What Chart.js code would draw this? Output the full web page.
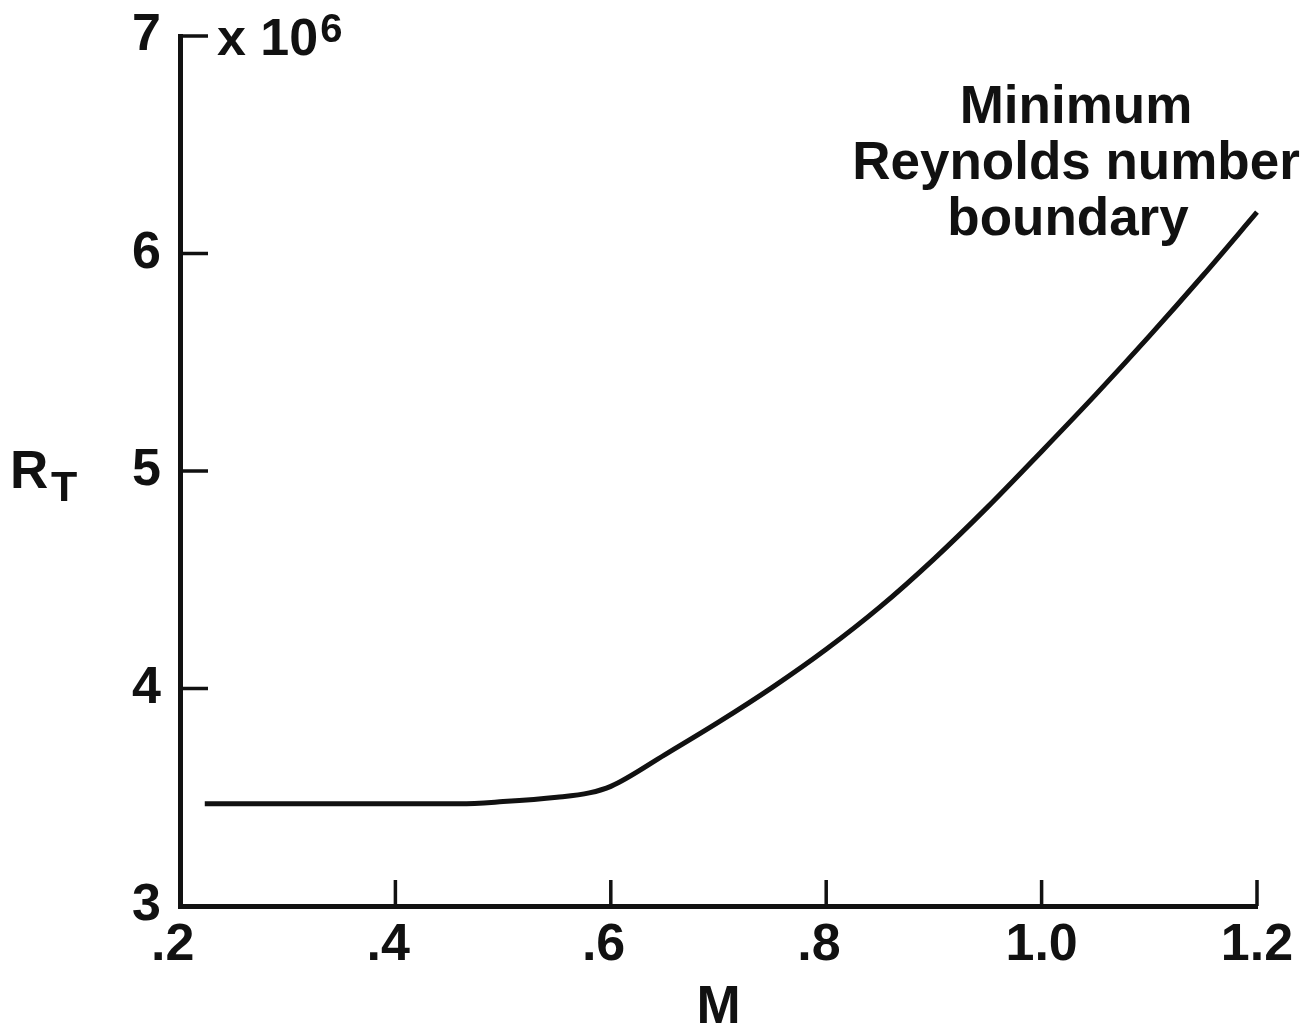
<!DOCTYPE html>
<html>
<head>
<meta charset="utf-8">
<title>Minimum Reynolds number boundary</title>
<script src="https://cdn.jsdelivr.net/npm/chart.js@4.4.1/dist/chart.umd.min.js"></script>
<style>
  html, body { margin: 0; padding: 0; background: #ffffff; }
  #wrap { width: 1316px; height: 1030px; position: relative; }
  canvas { display: block; }
</style>
</head>
<body>
<div id="wrap"><canvas id="chart" width="1316" height="1030"></canvas></div>
<script>
// Mach number along the boundary
const machNumbers = [0.223, 0.30, 0.40, 0.46, 0.50, 0.55, 0.58, 0.60, 0.65, 0.70,
                     0.75, 0.80, 0.85, 0.90, 0.95, 1.00, 1.05, 1.10, 1.15, 1.20];
// Minimum test Reynolds number, in millions
const reynoldsMillions = [3.47, 3.47, 3.47, 3.47, 3.48, 3.50, 3.52, 3.55, 3.695, 3.845,
                          4.005, 4.18, 4.375, 4.595, 4.835, 5.09, 5.35, 5.62, 5.90, 6.19];
// Axis tick values
const machTicks = [0.2, 0.4, 0.6, 0.8, 1.0, 1.2];
const reynoldsTicks = [3, 4, 5, 6, 7];
// Curve annotation lines
const curveNote = ['Minimum', 'Reynolds number', 'boundary'];

const INK = '#111111';
const FAMILY = '"Liberation Sans", Arial, Helvetica, sans-serif';

// Inward tick marks, axis multiplier, y-axis symbol and curve note
const decorations = {
  id: 'decorations',
  afterDraw(chart) {
    const ctx = chart.ctx;
    const xs = chart.scales.x;
    const ys = chart.scales.y;
    const area = chart.chartArea;
    ctx.save();
    ctx.strokeStyle = INK;
    ctx.lineWidth = 3.5;
    ctx.lineCap = 'butt';
    ctx.beginPath();
    machTicks.forEach(v => {
      if (v === xs.min) return;
      const px = xs.getPixelForValue(v);
      ctx.moveTo(px, area.bottom);
      ctx.lineTo(px, area.bottom - 26);
    });
    reynoldsTicks.forEach(v => {
      if (v === ys.min) return;
      const py = ys.getPixelForValue(v);
      ctx.moveTo(area.left, py);
      ctx.lineTo(area.left + 28, py);
    });
    ctx.stroke();

    ctx.fillStyle = INK;
    ctx.textBaseline = 'alphabetic';
    ctx.textAlign = 'left';

    // multiplier "x 10^6" beside the top tick
    const topY = ys.getPixelForValue(ys.max);
    ctx.font = 'bold 52px ' + FAMILY;
    const base = 'x 10';
    const bx = area.left + 37;
    ctx.fillText(base, bx, topY + 19);
    const bw = ctx.measureText(base).width;
    ctx.font = 'bold 40px ' + FAMILY;
    ctx.fillText('6', bx + bw + 2, topY + 6);

    // y-axis symbol R with subscript T
    const midY = ys.getPixelForValue(5);
    ctx.font = 'bold 53px ' + FAMILY;
    ctx.fillText('R', 10, midY + 17);
    ctx.font = 'bold 43px ' + FAMILY;
    ctx.fillText('T', 51, midY + 30);

    // curve note
    ctx.textAlign = 'center';
    ctx.font = 'bold 53px ' + FAMILY;
    const noteX = 1076;
    const noteY = [123, 179, 235];
    curveNote.forEach((t, i) => ctx.fillText(t, noteX - (i === 2 ? 8 : 0), noteY[i]));
    ctx.restore();
  }
};

const fmtMach = v => {
  const s = (Math.round(v * 10) / 10).toFixed(1);
  return v < 1 ? s.slice(1) + ' ' : s;
};

new Chart(document.getElementById('chart'), {
  type: 'line',
  data: {
    datasets: [{
      label: 'Minimum Reynolds number boundary',
      data: machNumbers.map((m, i) => ({ x: m, y: reynoldsMillions[i] })),
      borderColor: INK,
      borderWidth: 5,
      pointRadius: 0,
      fill: false,
      cubicInterpolationMode: 'monotone',
      borderCapStyle: 'butt'
    }]
  },
  options: {
    responsive: false,
    devicePixelRatio: 1,
    animation: false,
    clip: false,
    layout: { padding: { left: 0, top: 36, right: 59, bottom: 0 } },
    plugins: { legend: { display: false }, tooltip: { enabled: false }, title: { display: false } },
    scales: {
      x: {
        type: 'linear',
        min: 0.2,
        max: 1.2,
        afterBuildTicks: s => { s.ticks = machTicks.map(v => ({ value: v })); },
        afterFit: s => { s.height = 124; s.paddingLeft = 0; s.paddingRight = 0; },
        grid: { display: false, drawTicks: false },
        border: { display: true, color: INK, width: 5 },
        ticks: {
          callback: fmtMach,
          color: INK,
          font: { family: FAMILY, size: 52, weight: 'bold' },
          padding: 8,
          maxRotation: 0,
          autoSkip: false
        },
        title: {
          display: true,
          text: 'M',
          color: INK,
          font: { family: FAMILY, size: 53, weight: 'bold' },
          padding: { top: 0, bottom: -10 }
        }
      },
      y: {
        type: 'linear',
        min: 3,
        max: 7,
        afterBuildTicks: s => { s.ticks = reynoldsTicks.map(v => ({ value: v })); },
        afterFit: s => { s.width = 180; s.paddingTop = 0; s.paddingBottom = 0; },
        grid: { display: false, drawTicks: false },
        border: { display: true, color: INK, width: 5 },
        ticks: {
          callback: v => String(v),
          color: INK,
          font: { family: FAMILY, size: 52, weight: 'bold' },
          padding: 19,
          autoSkip: false
        }
      }
    }
  },
  plugins: [decorations]
});
</script>
</body>
</html>
